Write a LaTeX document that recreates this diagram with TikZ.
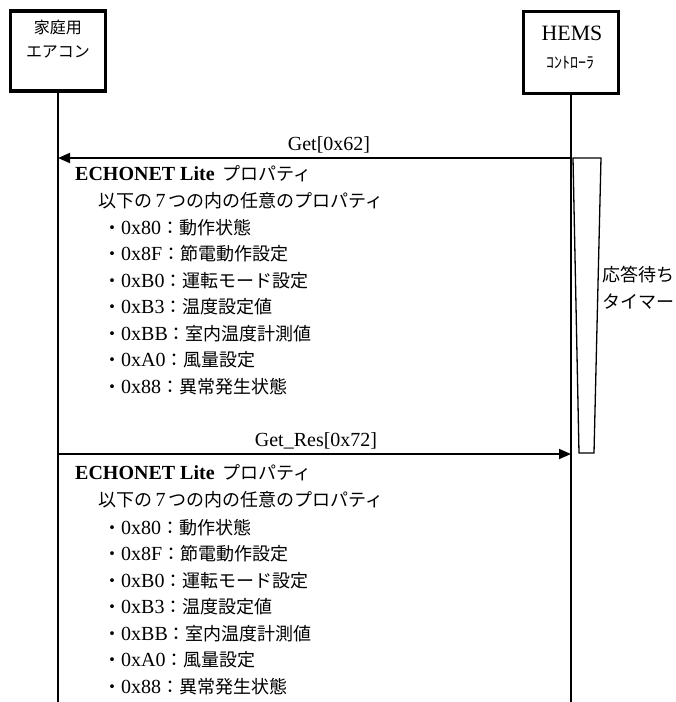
\documentclass[tikz,border=0pt]{standalone}
\usepackage{fontspec}
\setmainfont{Liberation Serif}[Scale=1.25]
\newfontfamily\jp{Noto Sans CJK JP}[Scale=1.125]
\newfontfamily\jpbox{Noto Sans CJK JP}
\usetikzlibrary{arrows.meta}
\newcommand\J[1]{{\jp\mdseries #1}}
\newcommand\JB[1]{{\jpbox\mdseries #1}}
\newcommand\itm[2]{\J{・}#1\J{：}\J{#2}}
\begin{document}
\begin{tikzpicture}[x=1pt,y=-1pt,
  actor/.style={draw, line width=3.2pt, minimum width=95pt, minimum height=80pt, inner sep=0},
  life/.style={line width=1.3pt},
  msg/.style={line width=1.8pt, -{Triangle[length=12pt,width=10pt]}},
  txt/.style={anchor=west, inner sep=0, font=\fontsize{16}{20}\selectfont},
  head/.style={txt, font=\fontsize{16}{20}\selectfont\bfseries},
  ctr/.style={inner sep=0, font=\fontsize{16}{20}\selectfont},
  timer/.style={line width=1.3pt}]
\useasboundingbox (0,0) rectangle (676,702);
% actors
\node[actor] (A) at (58,51) {};
\node[actor, minimum height=82pt] (B) at (571,52.5) {};
\node[ctr] (a1) at (58,27) {\JB{家庭用}};
\node[ctr] (a2) at (58,52) {\JB{エアコン}};
\node[ctr, font=\fontsize{17.5}{20}\selectfont] (b1) at (572,33) {HEMS};
\node[ctr] (b2) at (570,63) {\JB{ｺﾝﾄﾛｰﾗ}};
% lifelines
\coordinate (Aend) at (58,702);
\coordinate (Bend) at (571,702);
\draw[life] (A.south) -- (Aend);
\draw[life] (B.south) -- (Bend);
% timer
\draw[timer] (573,158) -- (601,158) -- (594,453) -- (579,453) -- cycle;
\node[txt] (t1) at (602,275) {\J{応答待ち}};
\node[txt] (t2) at (602,302) {\J{タイマー}};
% Get
\coordinate (g1) at (571,158);
\coordinate (g2) at (58,158);
\draw[msg] (g1) -- (g2);
\node[ctr] (gl) at (329,145) {Get[0x62]};
% Get_Res
\coordinate (r1) at (58,454);
\coordinate (r2) at (571,454);
\draw[msg] (r1) -- (r2);
\node[ctr] (rl) at (316,441) {Get\_Res[0x72]};
% block 1
\node[head] (h1) at (75,174) {ECHONET Lite\hspace{8pt}\J{プロパティ}};
\node[txt] (i1) at (98,201) {\J{以下の}\,7\,\J{つの内の任意のプロパティ}};
\node[txt] (p1) at (103,227.5) {\itm{0x80}{動作状態}};
\node[txt] (p2) at (103,254) {\itm{0x8F}{節電動作設定}};
\node[txt] (p3) at (103,280.5) {\itm{0xB0}{運転モード設定}};
\node[txt] (p4) at (103,307) {\itm{0xB3}{温度設定値}};
\node[txt] (p5) at (103,333.5) {\itm{0xBB}{室内温度計測値}};
\node[txt] (p6) at (103,360) {\itm{0xA0}{風量設定}};
\node[txt] (p7) at (103,386.5) {\itm{0x88}{異常発生状態}};
% block 2
\node[head] (h2) at (75,473) {ECHONET Lite\hspace{8pt}\J{プロパティ}};
\node[txt] (i2) at (98,500) {\J{以下の}\,7\,\J{つの内の任意のプロパティ}};
\node[txt] (q1) at (103,527.5) {\itm{0x80}{動作状態}};
\node[txt] (q2) at (103,554) {\itm{0x8F}{節電動作設定}};
\node[txt] (q3) at (103,580.5) {\itm{0xB0}{運転モード設定}};
\node[txt] (q4) at (103,607) {\itm{0xB3}{温度設定値}};
\node[txt] (q5) at (103,633.5) {\itm{0xBB}{室内温度計測値}};
\node[txt] (q6) at (103,660) {\itm{0xA0}{風量設定}};
\node[txt] (q7) at (103,686.5) {\itm{0x88}{異常発生状態}};
\end{tikzpicture}
\end{document}
